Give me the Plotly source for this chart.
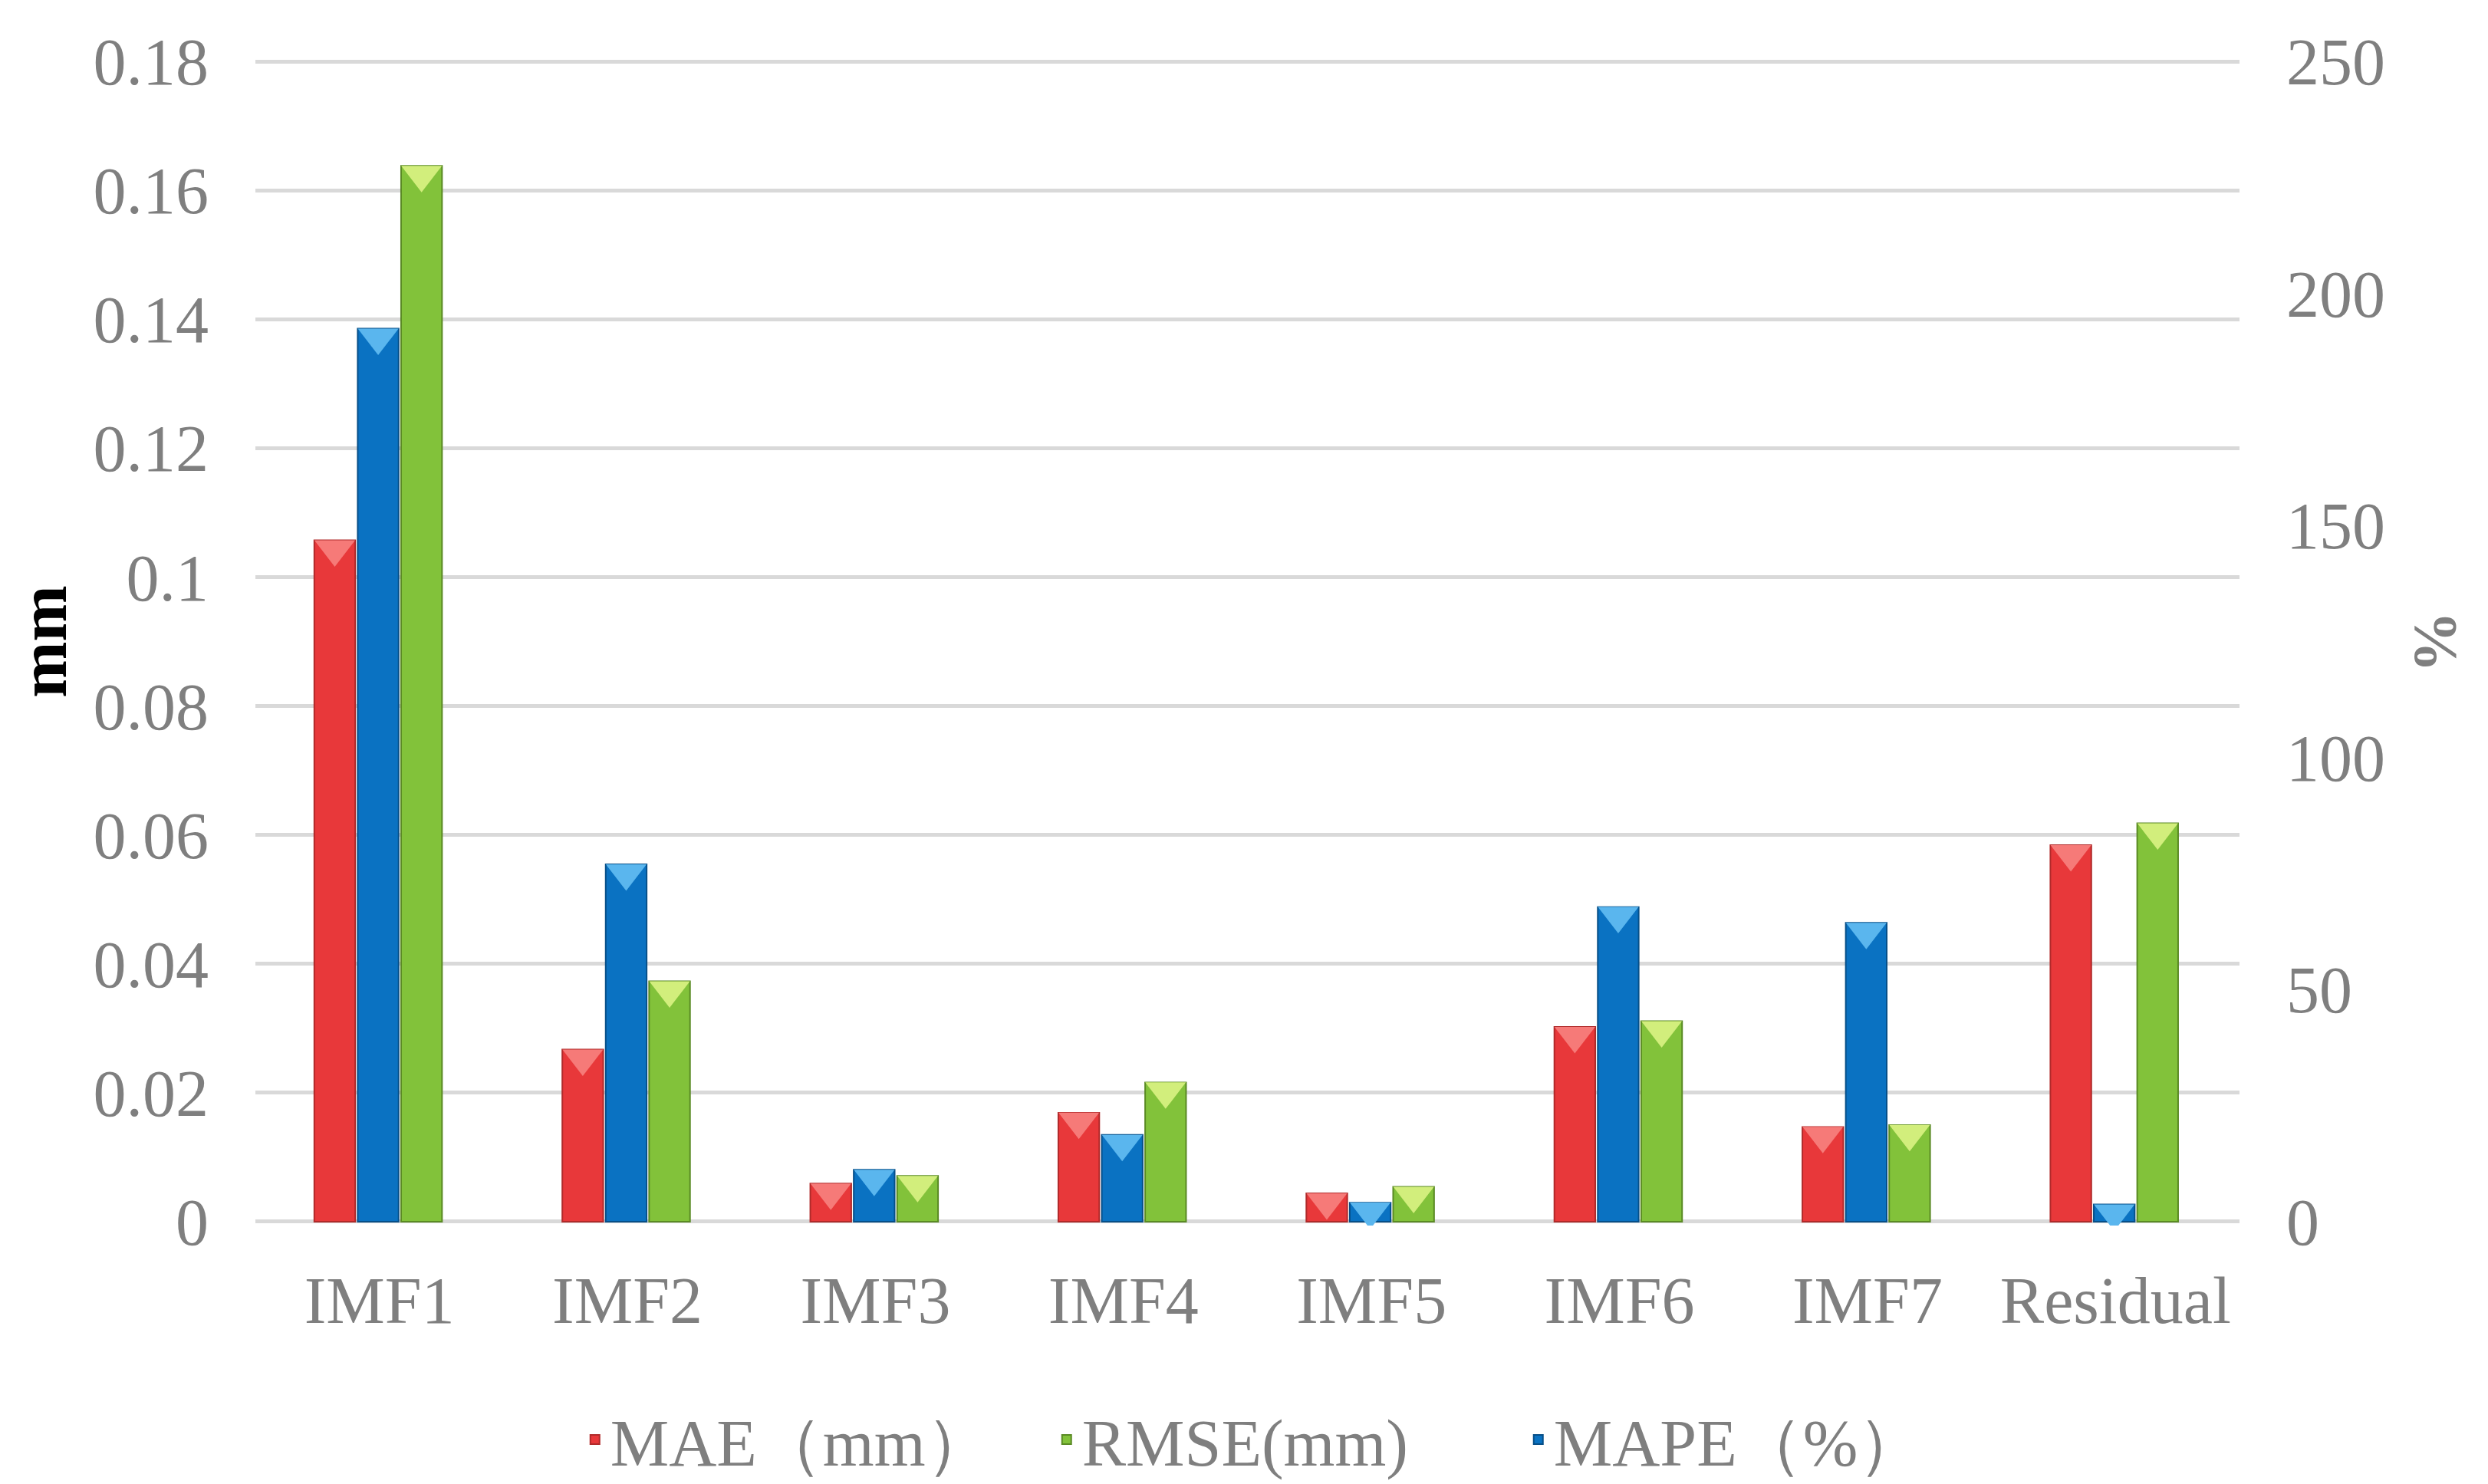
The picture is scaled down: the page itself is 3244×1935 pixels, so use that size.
import plotly.graph_objects as go

# data
categories = ["IMF1", "IMF2", "IMF3", "IMF4", "IMF5", "IMF6", "IMF7", "Residual"]
mae_mm = [0.1057, 0.0267, 0.0059, 0.0169, 0.0044, 0.0302, 0.0147, 0.0584]
rmse_mm = [0.1638, 0.0373, 0.0071, 0.0216, 0.0054, 0.0311, 0.0150, 0.0618]
mape_pct = [192.4, 77.0, 11.2, 18.7, 4.1, 67.8, 64.4, 3.7]

left_ticks = [0, 0.02, 0.04, 0.06, 0.08, 0.1, 0.12, 0.14, 0.16, 0.18]
left_ticktext = ["0", "0.02", "0.04", "0.06", "0.08", "0.1", "0.12", "0.14", "0.16", "0.18"]
right_ticks = [0, 50, 100, 150, 200, 250]

FONT = "Liberation Serif"
GREY = "#7f7f7f"
STEP = 0.175   # slot per bar inside a group
W = 0.165      # bar width (leaves a thin gap)
TRI = 46       # size of the bevel triangle on top of each bar
pos = list(range(len(categories)))

# plot area is about 1519 px tall; the triangle's flat top sits TRI/4 px above its centre
mm_per_px = 0.18 / 1519
pct_per_px = 250 / 1519

series = [
    # name, values, axis, slot, base colour, edge colour, highlight colour, legend rank
    ("MAE（mm）", mae_mm, "y", -1.5, "#e8383a", "#b02a2a", "#f67a78", 1),
    ("MAPE（%）", mape_pct, "y2", -0.5, "#0a72c2", "#074f88", "#5ab6ee", 3),
    ("RMSE(mm)", rmse_mm, "y", 0.5, "#82c23a", "#5a8a24", "#d2ee7c", 2),
]

fig = go.Figure()

for name, vals, ax, slot, col, edge, hi, rank in series:
    fig.add_trace(go.Bar(
        x=pos, y=vals, name=name, legendrank=rank,
        width=W, offset=slot * STEP,
        marker=dict(color=col, line=dict(color=edge, width=2)),
        yaxis=ax,
    ))

for name, vals, ax, slot, col, edge, hi, rank in series:
    per_px = mm_per_px if ax == "y" else pct_per_px
    fig.add_trace(go.Scatter(
        x=[p + slot * STEP + W / 2 for p in pos],
        y=[v - per_px * TRI / 4 for v in vals],
        mode="markers", showlegend=False, hoverinfo="skip",
        marker=dict(symbol="triangle-down", size=TRI, color=hi, line=dict(width=0)),
        yaxis=ax,
    ))

fig.update_layout(
    width=3244, height=1935,
    margin=dict(l=323, r=332, t=67, b=345),
    paper_bgcolor="white", plot_bgcolor="white",
    font=dict(family=FONT, size=86, color=GREY),
    barmode="overlay",
    xaxis=dict(
        range=[-0.5, 7.5], tickvals=pos, ticktext=categories,
        showgrid=False, showline=False, zeroline=False,
        ticks="", ticklabelstandoff=40,
        tickfont=dict(family=FONT, size=86, color=GREY),
    ),
    yaxis=dict(
        range=[-0.0006, 0.1806], tickvals=left_ticks, ticktext=left_ticktext,
        showgrid=True, gridcolor="#d9d9d9", gridwidth=5,
        zeroline=False, showline=False, ticks="", ticklabelstandoff=60,
        tickfont=dict(family=FONT, size=86, color=GREY),
        title=dict(text="<b>mm</b>", font=dict(family=FONT, size=88, color="black"), standoff=40),
    ),
    yaxis2=dict(
        overlaying="y", side="right",
        range=[-0.0006 / 0.18 * 250, 0.1806 / 0.18 * 250], tickvals=right_ticks,
        showgrid=False, zeroline=False, showline=False, ticks="", ticklabelstandoff=60,
        tickfont=dict(family=FONT, size=86, color=GREY),
    ),
    legend=dict(
        orientation="h", x=0.52, xanchor="center",
        y=0.034, yref="container", yanchor="middle",
        font=dict(family=FONT, size=86, color=GREY),
        entrywidth=570, itemsizing="constant",
        bgcolor="rgba(0,0,0,0)",
    ),
    annotations=[dict(
        text="<b>%</b>", textangle=90, showarrow=False,
        xref="paper", yref="paper", x=1.099, y=0.5,
        xanchor="center", yanchor="middle",
        font=dict(family=FONT, size=80, color=GREY),
    )],
)

fig.write_html("out.html")
